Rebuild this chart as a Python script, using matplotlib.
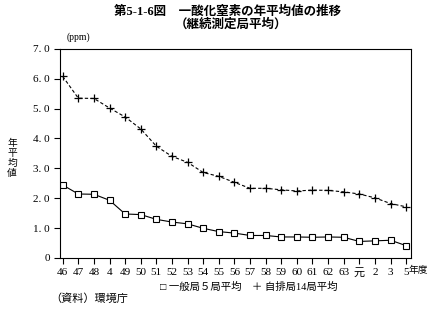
import matplotlib
matplotlib.use("Agg")
import matplotlib.pyplot as plt

plt.rcParams['font.family'] = ['Liberation Serif', 'Noto Sans CJK JP']

# x tick labels (fiscal years, as printed)
years = ['46', '47', '48', '4', '49', '50', '51', '52', '53', '54', '55', '56',
         '57', '58', '59', '60', '61', '62', '63', '元', '2', '3', '5']

# 一般局5局平均
general = [2.44, 2.14, 2.13, 1.93, 1.47, 1.45, 1.29, 1.20, 1.14, 0.99, 0.88, 0.83,
           0.75, 0.75, 0.70, 0.70, 0.69, 0.70, 0.69, 0.55, 0.57, 0.59, 0.41]

# 自排局14局平均
roadside = [6.08, 5.35, 5.34, 5.02, 4.72, 4.32, 3.74, 3.40, 3.20, 2.86, 2.73, 2.53,
            2.33, 2.33, 2.28, 2.24, 2.27, 2.26, 2.21, 2.14, 2.01, 1.82, 1.71]

x = list(range(len(years)))

fig = plt.figure(figsize=(4.36, 3.26), dpi=100)
ax = fig.add_axes([0.138, 0.209, 0.805, 0.641])

ax.plot(x, general, color='black', lw=0.8, marker='s', ms=4,
        mfc='white', mec='black', mew=0.8)
ax.plot(x, roadside, color='black', lw=0.8, ls=(0, (3, 2)), marker='+',
        ms=6, mew=0.9)

ax.set_xlim(-0.16, 22.32)
ax.set_ylim(0, 7.0)
ax.set_yticks([0, 1, 2, 3, 4, 5, 6, 7])
ax.set_yticklabels(['0', '1. 0', '2. 0', '3. 0', '4. 0', '5. 0', '6. 0', '7. 0'])
ax.set_xticks(x)
ax.set_xticklabels(years)
ax.tick_params(axis='both', labelsize=8, length=4, width=0.8, direction='out')
for s in ax.spines.values():
    s.set_linewidth(0.8)

# title
fig.text(0.522, 0.965, '第5-1-6図　一酸化窒素の年平均値の推移', ha='center',
         va='center', fontsize=9, fontweight='bold')
fig.text(0.53, 0.924, '（継続測定局平均）', ha='center', va='center',
         fontsize=9, fontweight='bold')

fig.text(0.152, 0.885, '(ppm)', ha='left', va='center', fontsize=7)

# vertical y label, one character per line
for i, ch in enumerate('年平均値'):
    fig.text(0.028, 0.562 - i * 0.031, ch, ha='center', va='center',
             fontsize=7, family='Noto Sans CJK JP')

fig.text(0.938, 0.173, '年度', ha='left', va='center', fontsize=7,
         family='Noto Sans CJK JP')

fig.text(0.57, 0.119, '□ 一般局５局平均　＋ 自排局14局平均', ha='center',
         va='center', fontsize=7.5)
fig.text(0.115, 0.083, '（資料）環境庁', ha='left', va='center', fontsize=8)

plt.savefig('out.png', dpi=100)
